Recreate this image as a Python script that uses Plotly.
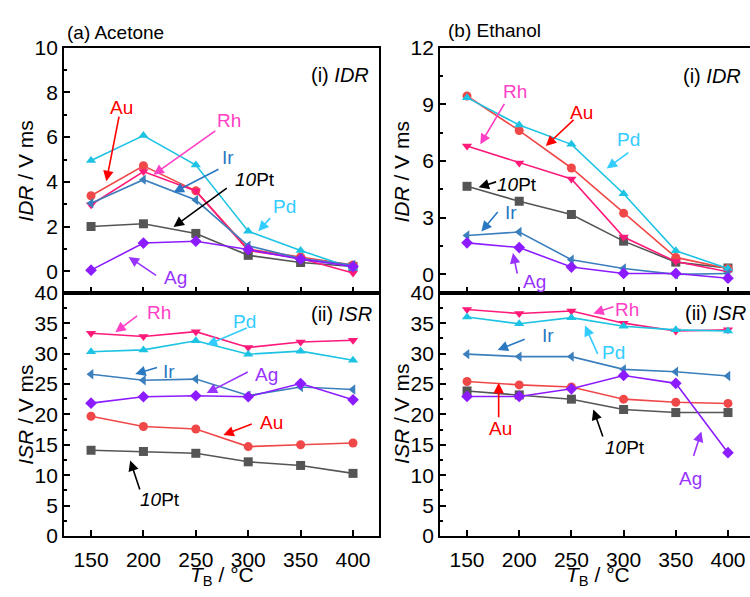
import plotly.graph_objects as go

T = [150, 200, 250, 300, 350, 400]
series_names = ["10Pt", "Au", "Rh", "Pd", "Ir", "Ag"]

# (a) Acetone, IDR
ace_idr = {
    "10Pt": [2.01, 2.13, 1.70, 0.72, 0.40, 0.22],
    "Au":   [3.38, 4.72, 3.60, 1.00, 0.65, 0.29],
    "Rh":   [2.98, 4.46, 3.60, 0.94, 0.58, -0.07],
    "Pd":   [4.96, 6.07, 4.75, 1.80, 0.94, 0.14],
    "Ir":   [3.05, 4.10, 3.19, 1.15, 0.58, 0.29],
    "Ag":   [0.06, 1.27, 1.35, 0.98, 0.55, 0.22],
}
# (a) Acetone, ISR
ace_isr = {
    "10Pt": [14.1, 13.9, 13.6, 12.2, 11.6, 10.3],
    "Au":   [19.7, 18.0, 17.6, 14.7, 15.0, 15.3],
    "Rh":   [33.35, 32.8, 33.6, 31.0, 31.9, 32.2],
    "Pd":   [30.3, 30.6, 32.1, 29.9, 30.4, 28.9],
    "Ir":   [26.6, 25.6, 25.8, 23.1, 24.5, 24.1],
    "Ag":   [21.85, 22.9, 23.06, 22.9, 25.07, 22.4],
}
# (b) Ethanol, IDR
eth_idr = {
    "10Pt": [4.66, 3.87, 3.17, 1.76, 0.65, 0.34],
    "Au":   [9.44, 7.61, 5.63, 3.24, 0.90, 0.31],
    "Rh":   [6.79, 5.90, 5.05, 1.98, 0.68, 0.14],
    "Pd":   [9.35, 7.90, 6.88, 4.27, 1.25, 0.31],
    "Ir":   [2.06, 2.24, 0.78, 0.31, 0.00, 0.05],
    "Ag":   [1.67, 1.42, 0.39, 0.05, 0.05, -0.20],
}
# (b) Ethanol, ISR
eth_isr = {
    "10Pt": [23.85, 23.2, 22.5, 20.8, 20.3, 20.3],
    "Au":   [25.4, 24.85, 24.5, 22.5, 22.0, 21.8],
    "Rh":   [37.25, 36.6, 37.0, 35.0, 33.7, 33.9],
    "Pd":   [36.0, 34.9, 35.9, 34.5, 33.9, 33.7],
    "Ir":   [29.9, 29.5, 29.5, 27.4, 27.0, 26.3],
    "Ag":   [22.95, 22.95, 24.2, 26.4, 25.1, 13.7],
}

line_colors = {"10Pt": "#555555", "Au": "#f04848", "Rh": "#ff1a7a",
               "Pd": "#1cc3e3", "Ir": "#3c7fbd", "Ag": "#8c1cff"}
label_colors = {"10Pt": "#000000", "Au": "#ff0000", "Rh": "#ff3fc6",
                "Pd": "#33ccff", "Ir": "#2a78c2", "Ag": "#9933ff"}
symbols = {"10Pt": "square", "Au": "circle", "Rh": "triangle-down",
           "Pd": "triangle-up", "Ir": "triangle-left", "Ag": "diamond"}

# label annotations: (name, text_x, text_y, tail_x, tail_y, head_x, head_y)
ace_idr_lab = [
    ("Au", 179.5, 7.34, 177, 6.98, 164.6, 4.03),
    ("Rh", 282, 6.76, 270, 6.33, 209.6, 4.32),
    ("Ir", 281, 5.1, 273, 4.6, 228.7, 3.53),
    ("10Pt", 306, 4.1, 281, 3.77, 228.7, 1.99),
    ("Pd", 335, 2.88, 322.3, 2.45, 309.6, 1.8),
    ("Ag", 231, -0.26, 213.5, -0.22, 185.9, 0.65),
]
eth_idr_lab = [
    ("Rh", 196.2, 9.7, 186.6, 9.1, 162.7, 6.88),
    ("Au", 259.9, 8.59, 253.5, 8.25, 225.5, 6.79),
    ("Pd", 304.5, 7.14, 306, 6.5, 283.8, 5.6),
    ("10Pt", 197.8, 4.75, 179.3, 4.92, 161.1, 4.61),
    ("Ir", 192, 3.29, 180.6, 3.38, 163.7, 2.27),
    ("Ag", 214.3, -0.38, 198.4, -0.03, 194, 1.13),
]
ace_isr_lab = [
    ("Rh", 214.4, 36.7, 195.4, 36.4, 173.2, 33.5),
    ("Pd", 296.9, 35.2, 300, 34.3, 260.4, 31.4),
    ("Ir", 224, 27.0, 214.4, 27.8, 192.2, 26.65),
    ("Ag", 317.5, 26.6, 301, 27.1, 260.4, 23.5),
    ("Au", 322.3, 18.7, 304.8, 18.5, 276.3, 16.6),
    ("10Pt", 216, 6.0, 197, 7.4, 187.4, 12.4),
]
eth_isr_lab = [
    ("Rh", 303.5, 37.3, 291.7, 37.8, 271, 36.6),
    ("Ir", 227.4, 32.9, 206.7, 32.45, 179.3, 30.6),
    ("Pd", 290.1, 30.2, 275.8, 29.7, 263, 34.6),
    ("Au", 182.5, 17.7, 180.3, 19.3, 180.3, 25.2),
    ("10Pt", 301.3, 14.5, 280.6, 16.1, 271, 20.8),
    ("Ag", 364, 9.5, 366.6, 12.9, 374.5, 17.2),
]

W, H = 750, 597
FONT = "Liberation Sans, Arial, sans-serif"

fig = go.Figure()

panels = [
    ("x", "y", ace_idr, ace_idr_lab),
    ("x2", "y2", ace_isr, ace_isr_lab),
    ("x3", "y3", eth_idr, eth_idr_lab),
    ("x4", "y4", eth_isr, eth_isr_lab),
]

for xa, ya, data, labs in panels:
    for name in series_names:
        fig.add_trace(go.Scatter(
            x=T, y=data[name], xaxis=xa, yaxis=ya, mode="lines+markers",
            line=dict(color=line_colors[name], width=1.6),
            marker=dict(symbol=symbols[name], size=9, color=line_colors[name]),
            showlegend=False, cliponaxis=False))
    for name, tx, ty, ax, ay, hx, hy in labs:
        txt = "<i>10</i>Pt" if name == "10Pt" else name
        fig.add_annotation(x=tx, y=ty, xref=xa, yref=ya, text=txt, showarrow=False,
                           font=dict(family=FONT, size=19, color=label_colors[name]))
        fig.add_annotation(x=hx, y=hy, ax=ax, ay=ay, xref=xa, yref=ya,
                           axref=xa, ayref=ya, text="", showarrow=True,
                           arrowhead=2, arrowsize=1.3, arrowwidth=1.6,
                           arrowcolor=label_colors[name])

def px_x(p):
    return p / W

def px_y(p):
    return 1 - p / H

tickfont = dict(family=FONT, size=21, color="#000")
common_x = dict(showline=True, linecolor="#000", linewidth=1.8, ticks="inside",
                ticklen=6, tickwidth=1.5, tickcolor="#000", showgrid=False,
                zeroline=False, tickvals=T, tickfont=tickfont, ticklabelstandoff=4)
common_y = dict(showline=True, linecolor="#000", linewidth=1.8, ticks="inside",
                ticklen=6, tickwidth=1.5, tickcolor="#000", showgrid=False,
                zeroline=False, tickfont=tickfont)

dom_left = [px_x(64), px_x(379)]
dom_right = [px_x(440), 1.0]
dom_top = [px_y(292), px_y(37)]
dom_bot = [px_y(545), px_y(292)]

fig.update_layout(
    width=W, height=H, margin=dict(l=0, r=0, t=0, b=0),
    plot_bgcolor="white", paper_bgcolor="white",
    xaxis=dict(common_x, domain=dom_left, range=[124.2, 424.8], anchor="y",
               mirror=True, showticklabels=False),
    yaxis=dict(common_y, domain=dom_top, range=[-0.95, 10], anchor="x",
               mirror=True, tickvals=[0, 2, 4, 6, 8, 10],
               minor=dict(ticks="inside", ticklen=3, tickcolor="#000", dtick=1, tick0=0)),
    xaxis2=dict(common_x, domain=dom_left, range=[124.2, 424.8], anchor="y2",
                mirror=True),
    yaxis2=dict(common_y, domain=dom_bot, range=[0, 40], anchor="x2",
                mirror=True, tickvals=[0, 5, 10, 15, 20, 25, 30, 35, 40],
                minor=dict(ticks="inside", ticklen=3, tickcolor="#000", dtick=2.5, tick0=0)),
    xaxis3=dict(common_x, domain=dom_right, range=[124.1, 421.1], anchor="y3",
                mirror=True, showticklabels=False),
    yaxis3=dict(common_y, domain=dom_top, range=[-0.97, 12], anchor="x3",
                mirror=False, tickvals=[0, 3, 6, 9, 12],
                minor=dict(ticks="inside", ticklen=3, tickcolor="#000", dtick=1.5, tick0=0)),
    xaxis4=dict(common_x, domain=dom_right, range=[124.1, 421.1], anchor="y4",
                mirror=True),
    yaxis4=dict(common_y, domain=dom_bot, range=[0, 40], anchor="x4",
                mirror=False, tickvals=[0, 5, 10, 15, 20, 25, 30, 35, 40],
                minor=dict(ticks="inside", ticklen=3, tickcolor="#000", dtick=2.5, tick0=0)),
)

def paper_text(x, y, text, size, xanchor="center", angle=0, yanchor="middle"):
    fig.add_annotation(x=px_x(x), y=px_y(y), xref="paper", yref="paper",
                       text=text, showarrow=False, xanchor=xanchor, yanchor=yanchor,
                       textangle=angle, font=dict(family=FONT, size=size, color="#000"))

# panel titles
paper_text(65, 21, "(a) Acetone", 19, xanchor="left")
paper_text(446, 19, "(b) Ethanol", 19, xanchor="left")
paper_text(371, 66, "(i) <i>IDR</i>", 20, xanchor="right")
paper_text(374, 314, "(ii) <i>ISR</i>", 20, xanchor="right")
paper_text(743, 67, "(i) <i>IDR</i>", 20, xanchor="right")
paper_text(748, 313, "(ii) <i>ISR</i>", 20, xanchor="right")

# axis titles
paper_text(26, 165, "<i>IDR</i> / V ms", 21, angle=-90)
paper_text(26, 419, "<i>ISR</i> / V ms", 21, angle=-90)
paper_text(402, 166, "<i>IDR</i> / V ms", 21, angle=-90)
paper_text(402, 418, "<i>ISR</i> / V ms", 21, angle=-90)
paper_text(222, 571, "<i>T</i><sub>B</sub> / °C", 21, yanchor="top")
paper_text(598, 571, "<i>T</i><sub>B</sub> / °C", 21, yanchor="top")

fig.write_html("out.html")
